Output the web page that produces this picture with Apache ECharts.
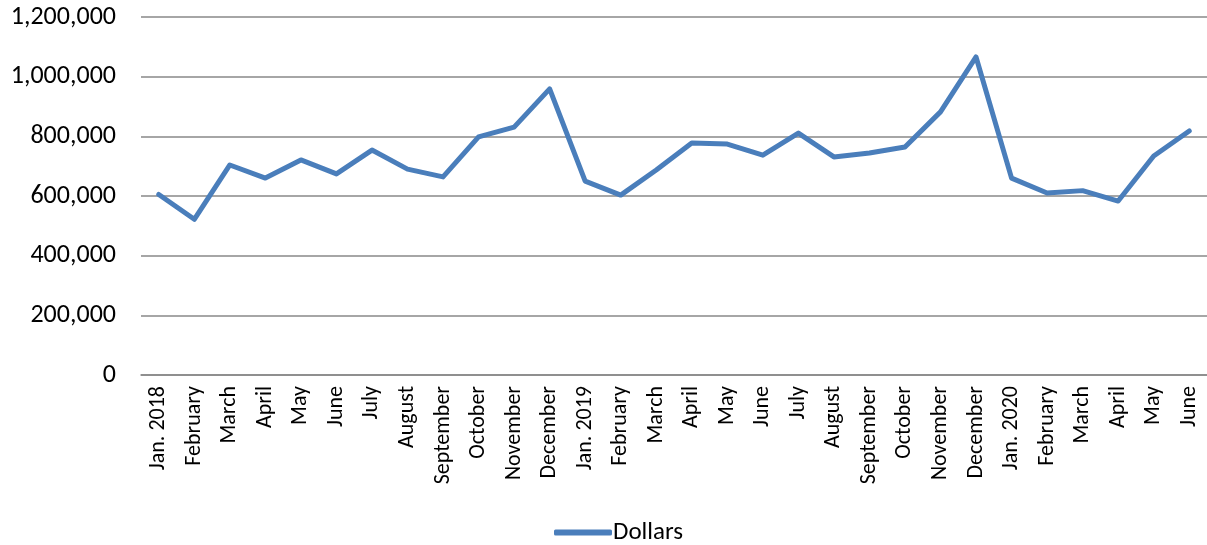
<!DOCTYPE html>
<html><head><meta charset="utf-8">
<script src="https://cdn.jsdelivr.net/npm/echarts@6/dist/echarts.min.js"></script>
<style>html,body{margin:0;padding:0;background:#fff}#c{width:1207px;height:545px}</style>
</head><body><div id="c"></div>
<script>
const categories = ["Jan. 2018","February","March","April","May","June","July","August","September","October","November","December",
"Jan. 2019","February","March","April","May","June","July","August","September","October","November","December",
"Jan. 2020","February","March","April","May","June"];
const dollars = [605000,522000,704000,660000,721000,674000,754000,690000,664000,798000,831000,959000,
650000,603000,687000,778000,774000,737000,811000,731000,744000,764000,882000,1066000,
660000,610000,618000,583000,734000,818000];
const seriesName = "Dollars";
const yTicks = {min:0, max:1200000, interval:200000};

const font = "Carlito, Calibri, 'Open Sans', sans-serif";
const chart = echarts.init(document.getElementById('c'));
chart.setOption({
  animation:false,
  grid:{left:141, right:0, top:17, bottom:170, containLabel:false},
  legend:{top:515, left:549, itemWidth:58, itemHeight:6, icon:'roundRect', itemGap:0,
    textStyle:{fontFamily:font, fontSize:25, color:'#000', padding:[0,0,0,-4]}, data:[seriesName]},
  xAxis:{type:'category', data:categories, boundaryGap:true,
    axisLine:{show:true, lineStyle:{color:'#888', width:1.5}}, axisTick:{show:false},
    axisLabel:{rotate:90, interval:0, fontFamily:font, fontSize:22, color:'#000', margin:11}},
  yAxis:{type:'value', min:yTicks.min, max:yTicks.max, interval:yTicks.interval,
    axisLine:{show:false}, axisTick:{show:false},
    splitLine:{lineStyle:{color:'#888', width:1.5}},
    axisLabel:{fontFamily:font, fontSize:26, color:'#000', margin:25,
      formatter:v=>v.toLocaleString('en-US')}},
  series:[{name:seriesName, type:'line', data:dollars, symbol:'none',
    lineStyle:{color:'#4A7EBB', width:5, cap:'round', join:'round'}, itemStyle:{color:'#4A7EBB'}}]
});
</script></body></html>
